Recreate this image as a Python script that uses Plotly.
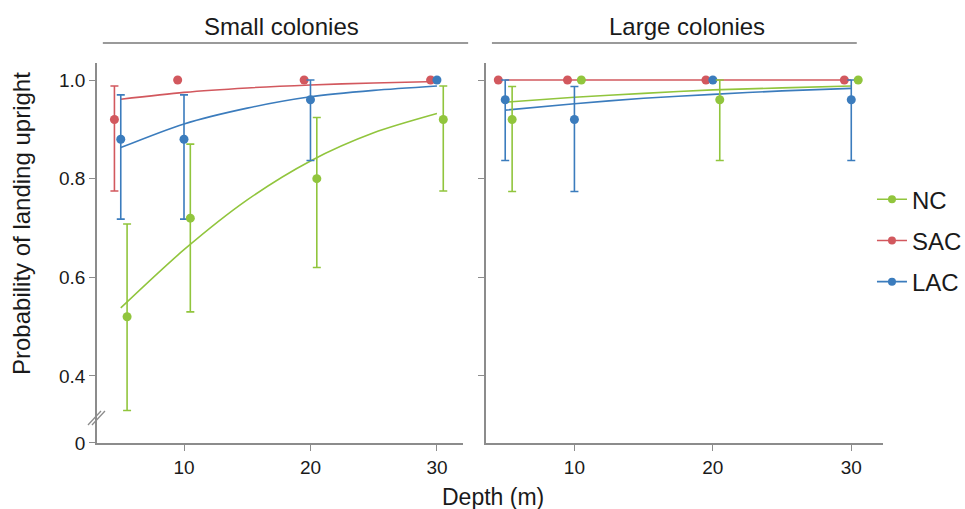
import math
import plotly.graph_objects as go

# ---- data -------------------------------------------------------------
depths = [5, 10, 20, 30]                 # sampled depths (m)
fit_depths = [5, 10, 15, 20, 25, 30]     # depths at which fitted curves are given

groups = ["NC", "SAC", "LAC"]

# Small colonies: observed proportions and 95% CI
small_nc = [0.52, 0.72, 0.80, 0.92]
small_nc_lo = [0.33, 0.53, 0.62, 0.775]
small_nc_hi = [0.708, 0.87, 0.924, 0.988]
small_sac = [0.92, 1.0, 1.0, 1.0]
small_sac_lo = [0.775, None, None, None]
small_sac_hi = [0.988, None, None, None]
small_lac = [0.88, 0.88, 0.96, 1.0]
small_lac_lo = [0.718, 0.718, 0.837, None]
small_lac_hi = [0.97, 0.97, 1.0, None]

# Small colonies: fitted logistic curves
small_nc_fit = [0.538, 0.656, 0.757, 0.836, 0.893, 0.932]
small_sac_fit = [0.961, 0.975, 0.984, 0.990, 0.994, 0.997]
small_lac_fit = [0.863, 0.911, 0.943, 0.966, 0.979, 0.988]

# Large colonies: observed proportions and 95% CI
large_nc = [0.92, 1.0, 0.96, 1.0]
large_nc_lo = [0.774, None, 0.837, None]
large_nc_hi = [0.987, None, 1.0, None]
large_sac = [1.0, 1.0, 1.0, 1.0]
large_sac_lo = [None, None, None, None]
large_sac_hi = [None, None, None, None]
large_lac = [0.96, 0.92, 1.0, 0.96]
large_lac_lo = [0.837, 0.774, None, 0.837]
large_lac_hi = [1.0, 0.987, None, 1.0]

# Large colonies: fitted logistic curves
large_nc_fit = [0.955, 0.965, 0.973, 0.980, 0.984, 0.988]
large_sac_fit = [1.0, 1.0, 1.0, 1.0, 1.0, 1.0]
large_lac_fit = [0.939, 0.952, 0.963, 0.971, 0.978, 0.983]

panel_titles = ["Small colonies", "Large colonies"]
y_tick_vals = [0.4, 0.6, 0.8, 1.0]
y_tick_text = ["0.4", "0.6", "0.8", "1.0"]
x_tick_vals = [10, 20, 30]
AXIS_ZERO = 0.2642   # position standing in for 0 below the axis break

# ---- style ------------------------------------------------------------
colors = {"NC": "#91c53d", "SAC": "#d2585e", "LAC": "#3b7cbd"}
dodge = {"NC": 0.5, "SAC": -0.5, "LAC": 0.0}
axis_grey = "#8c8c8c"
text_col = "#1a1a1a"
FONT = "Liberation Sans, Arial, sans-serif"

panels = [
    {
        "xa": "x", "ya": "y",
        "obs": {"NC": (small_nc, small_nc_lo, small_nc_hi),
                "SAC": (small_sac, small_sac_lo, small_sac_hi),
                "LAC": (small_lac, small_lac_lo, small_lac_hi)},
        "fit": {"NC": small_nc_fit, "SAC": small_sac_fit, "LAC": small_lac_fit},
    },
    {
        "xa": "x2", "ya": "y2",
        "obs": {"NC": (large_nc, large_nc_lo, large_nc_hi),
                "SAC": (large_sac, large_sac_lo, large_sac_hi),
                "LAC": (large_lac, large_lac_lo, large_lac_hi)},
        "fit": {"NC": large_nc_fit, "SAC": large_sac_fit, "LAC": large_lac_fit},
    },
]


def err_parts(vals, lo, hi):
    plus, minus = [], []
    for v, l, h in zip(vals, lo, hi):
        plus.append(math.nan if h is None else h - v)
        minus.append(math.nan if l is None else v - l)
    return plus, minus


fig = go.Figure()

draw_order = ["SAC", "LAC", "NC"]
for p in panels:
    # fitted curves
    for g in draw_order:
        fig.add_trace(go.Scatter(
            x=fit_depths, y=p["fit"][g], mode="lines",
            line=dict(color=colors[g], width=1.6, shape="spline", smoothing=0.8),
            xaxis=p["xa"], yaxis=p["ya"], showlegend=False, hoverinfo="skip",
        ))
    # observed proportions with confidence intervals
    for g in draw_order:
        vals, lo, hi = p["obs"][g]
        plus, minus = err_parts(vals, lo, hi)
        fig.add_trace(go.Scatter(
            x=[d + dodge[g] for d in depths], y=vals, mode="markers",
            marker=dict(color=colors[g], size=9),
            error_y=dict(type="data", symmetric=False, array=plus, arrayminus=minus,
                         color=colors[g], thickness=1.6, width=4),
            xaxis=p["xa"], yaxis=p["ya"], showlegend=False, name=g,
        ))

# legend entries
for i, g in enumerate(groups):
    fig.add_trace(go.Scatter(
        x=[None], y=[None], mode="lines+markers", name=g,
        line=dict(color=colors[g], width=1.6),
        marker=dict(color=colors[g], size=8),
        legendgroup=g, showlegend=True, xaxis="x2", yaxis="y2",
    ))

axis_common = dict(
    showline=True, linecolor=axis_grey, linewidth=1.5,
    ticks="outside", ticklen=6, tickcolor=axis_grey, tickwidth=1.3,
    showgrid=False, zeroline=False, automargin=False,
    tickfont=dict(family=FONT, size=19, color=text_col),
)

y_range = [AXIS_ZERO, 1.0345]

fig.update_layout(
    template="none",
    width=965, height=509,
    margin=dict(l=0, r=0, t=0, b=0, autoexpand=False),
    paper_bgcolor="white", plot_bgcolor="white",
    font=dict(family=FONT, color=text_col),
    xaxis=dict(domain=[0.1005, 0.4798], range=[3.12, 32.06],
               tickvals=x_tick_vals, anchor="y", **axis_common),
    yaxis=dict(domain=[0.1297, 0.8762], range=y_range,
               tickvals=[AXIS_ZERO] + y_tick_vals, ticktext=["0"] + y_tick_text,
               anchor="x", **axis_common),
    xaxis2=dict(domain=[0.5036, 0.9150], range=[3.61, 32.29],
                tickvals=x_tick_vals, anchor="y2", **axis_common),
    yaxis2=dict(domain=[0.1297, 0.8762], range=y_range,
                tickvals=y_tick_vals, showticklabels=False,
                anchor="x2", **axis_common),
    legend=dict(
        x=0.9036, xanchor="left", y=0.652, yanchor="top",
        font=dict(family=FONT, size=24, color=text_col),
        traceorder="grouped", tracegroupgap=7,
        bgcolor="rgba(0,0,0,0)", borderwidth=0, itemclick=False,
    ),
    showlegend=True,
)

# panel strips: title with a rule beneath
strip_specs = [
    ("x domain", panel_titles[0], 0.505, 0.016, 1.014),
    ("x2 domain", panel_titles[1], 0.506, 0.015, 0.934),
]
for xref, title, tx, x0, x1 in strip_specs:
    fig.add_annotation(text=title, xref=xref, yref="paper", x=tx, y=0.947,
                       xanchor="center", yanchor="middle", showarrow=False,
                       font=dict(family=FONT, size=24, color=text_col))
    fig.add_shape(type="line", xref=xref, yref="paper", x0=x0, x1=x1,
                  y0=0.9155, y1=0.9155, line=dict(color="#9a9a9a", width=2))

# axis-break marks ("//") on the left y axis
for shift in (0.0, 0.0109):
    fig.add_shape(type="line", xref="x domain", yref="y",
                  x0=-0.0246 + shift, x1=0.0109 + shift,
                  y0=0.3006, y1=0.329,
                  line=dict(color=axis_grey, width=1.3))

# axis titles
fig.add_annotation(text="Probability of landing upright", xref="paper", yref="paper",
                   x=22 / 965, y=1 - 224 / 509, textangle=-90, showarrow=False,
                   xanchor="center", yanchor="middle",
                   font=dict(family=FONT, size=24, color=text_col))
fig.add_annotation(text="Depth (m)", xref="paper", yref="paper",
                   x=493 / 965, y=1 - 497 / 509, showarrow=False,
                   xanchor="center", yanchor="middle",
                   font=dict(family=FONT, size=23, color=text_col))

fig.write_html("out.html")
